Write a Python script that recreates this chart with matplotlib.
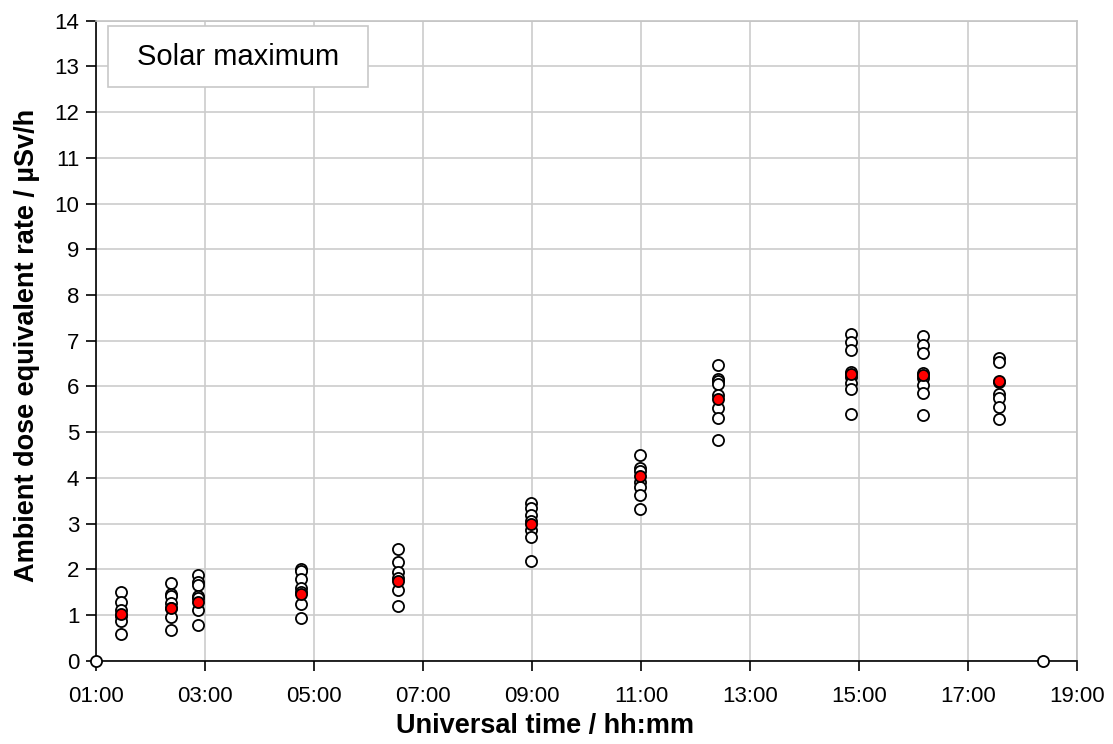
import matplotlib
matplotlib.use("Agg")
import matplotlib.pyplot as plt
from matplotlib.patches import Rectangle

plt.rcParams['font.family'] = ['Liberation Sans', 'DejaVu Sans']

# Flight times (decimal hours UT) at which readings were taken
times = [1.45, 2.38, 2.88, 4.77, 6.55, 8.98, 10.99, 12.41, 14.85, 16.18, 17.56]

# Individual readings per time (µSv/h)
readings = [
    [1.50, 1.28, 1.10, 0.97, 0.87, 0.59],
    [1.69, 1.47, 1.42, 1.26, 1.15, 0.96, 0.67],
    [1.88, 1.73, 1.66, 1.42, 1.37, 1.11, 0.78],
    [2.00, 1.97, 1.78, 1.58, 1.51, 1.24, 0.93],
    [2.44, 2.15, 1.95, 1.80, 1.55, 1.20],
    [3.46, 3.33, 3.19, 3.05, 2.86, 2.71, 2.18],
    [4.50, 4.21, 4.15, 3.90, 3.80, 3.62, 3.32],
    [6.46, 6.16, 6.11, 6.05, 5.81, 5.52, 5.30, 4.83],
    [7.14, 6.97, 6.79, 6.32, 6.21, 6.07, 5.95, 5.39],
    [7.10, 6.91, 6.73, 6.30, 6.18, 6.03, 5.85, 5.38],
    [6.62, 6.54, 6.10, 5.84, 5.74, 5.56, 5.28],
]

# Mean reading per time (µSv/h)
means = [1.02, 1.15, 1.29, 1.46, 1.75, 3.00, 4.04, 5.72, 6.27, 6.25, 6.11]

# Take-off / landing points
end_times = [1.0, 18.38]
end_values = [0.0, 0.0]

xticks = list(range(1, 20, 2))
xticklabels = [f"{h:02d}:00" for h in xticks]
yticks = list(range(0, 15))

fig = plt.figure(figsize=(11.13, 7.44), dpi=100)
ax = fig.add_axes([96/1113, 1-660.7/744, 981/1113, 640/744])

ax.set_xlim(1, 19)
ax.set_ylim(0, 14)
ax.set_xticks(xticks)
ax.set_xticklabels(xticklabels)
ax.set_yticks(yticks)
ax.grid(True, color='#cccccc', linewidth=1.2)
ax.set_axisbelow(True)

for s in ['top', 'right']:
    ax.spines[s].set_color('#c4c4c4')
    ax.spines[s].set_linewidth(1.2)
for s in ['left', 'bottom']:
    ax.spines[s].set_color('black')
    ax.spines[s].set_linewidth(1.2)

ax.tick_params(axis='both', direction='out', length=7, width=1.2,
               labelsize=16, color='black', pad=5)
ax.tick_params(axis='x', pad=11)

msize = 64
for t, vals in zip(times, readings):
    ax.scatter([t]*len(vals), vals, s=msize, facecolor='white',
               edgecolor='black', linewidth=1.3, zorder=3)
ax.scatter(times, means, s=msize, facecolor='#ff0000', edgecolor='black',
           linewidth=1.3, zorder=4)
ax.scatter(end_times, end_values, s=msize, facecolor='white',
           edgecolor='black', linewidth=1.3, zorder=5, clip_on=False)

fig.text(545/1113, 1-726/744, 'Universal time / hh:mm', fontsize=19.5,
         fontweight='bold', ha='center', va='center')
fig.text(27/1113, 1-345/744, 'Ambient dose equivalent rate / µSv/h',
         fontsize=19.5, fontweight='bold', ha='center', va='center',
         rotation=90)

box = Rectangle((0.0122, 0.896), 0.265, 0.0957, transform=ax.transAxes,
                facecolor='white', edgecolor='#c8c8c8', linewidth=1.2,
                zorder=6)
ax.add_patch(box)
ax.text(0.1447, 0.944, 'Solar maximum', transform=ax.transAxes,
        ha='center', va='center', fontsize=21, zorder=7)

fig.savefig('out.png', dpi=100)
